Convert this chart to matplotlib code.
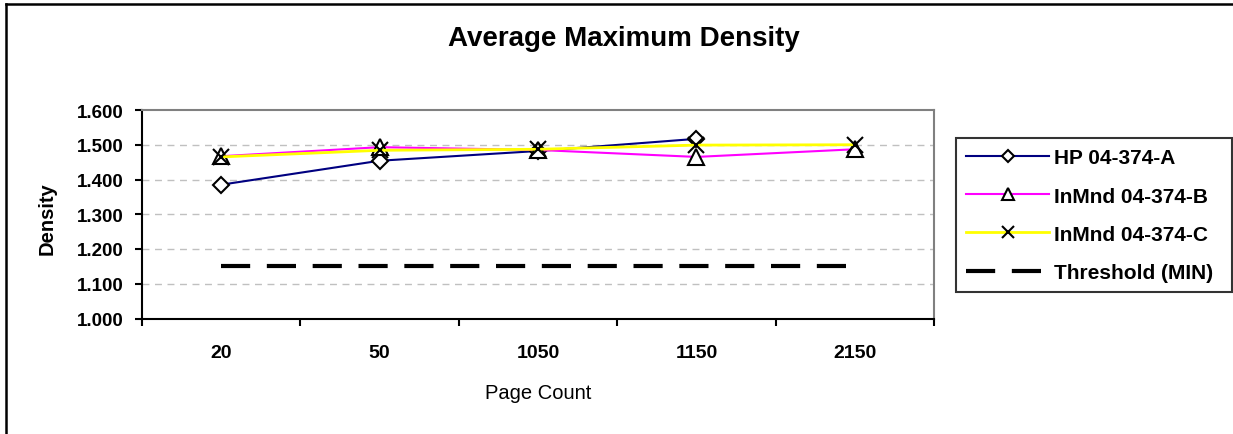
import matplotlib
matplotlib.use("Agg")
import matplotlib.pyplot as plt
from matplotlib.lines import Line2D
import numpy as np

plt.rcParams['font.family'] = ['Liberation Sans', 'DejaVu Sans']

categories = ["20", "50", "1050", "1150", "2150"]
hp_a = [1.385, 1.454, 1.482, 1.517, np.nan]
inmnd_b = [1.467, 1.493, 1.485, 1.465, 1.487]
inmnd_c = [1.465, 1.484, 1.487, 1.499, 1.500]
threshold = [1.15, 1.15, 1.15, 1.15, 1.15]
yticks = [1.0, 1.1, 1.2, 1.3, 1.4, 1.5, 1.6]

W, H = 1233, 435
fig = plt.figure(figsize=(W / 100, H / 100), dpi=100)
ax = fig.add_axes([142 / W, 1 - 319.5 / H, (934 - 142) / W, (319.5 - 111) / H])

x = np.arange(len(categories))
ax.plot(x, hp_a, color='#000080', lw=1.5, marker='D', ms=8, mfc='white',
        mec='black', mew=1.5, label='HP 04-374-A', zorder=3)
ax.plot(x, inmnd_b, color='#FF00FF', lw=1.5, marker='^', ms=11, mfc='white',
        mec='black', mew=1.5, label='InMnd 04-374-B', zorder=4)
ax.plot(x, inmnd_c, color='#FFFF00', lw=2, marker='x', ms=12,
        mec='black', mew=1.5, label='InMnd 04-374-C', zorder=5)
ax.plot(x, threshold, color='black', lw=3, dashes=(7, 4),
        label='Threshold (MIN)', zorder=2)

ax.set_xlim(-0.5, len(categories) - 0.5)
ax.set_ylim(1.0, 1.6)
ax.set_yticks(yticks)
ax.set_yticklabels([f"{v:.3f}" for v in yticks], fontweight='bold', fontsize=13.5)
ax.set_xticks(x)
ax.set_xticklabels(categories, fontweight='bold', fontsize=14)
ax.set_xticks(np.arange(-0.5, len(categories)), minor=True)
ax.tick_params(axis='x', which='major', length=0, pad=18.5)
ax.tick_params(axis='x', which='minor', length=5, width=1.5, direction='out')
ax.tick_params(axis='y', length=5, width=1.5, direction='out', pad=8)

for v in yticks[1:-1]:
    ax.axhline(v, color='#c0c0c0', lw=1, dashes=(5, 4), zorder=1)

ax.spines['left'].set_color('black')
ax.spines['bottom'].set_color('black')
ax.spines['left'].set_linewidth(1.5)
ax.spines['bottom'].set_linewidth(1.5)
ax.spines['top'].set_color('#808080')
ax.spines['right'].set_color('#808080')
ax.spines['top'].set_linewidth(1.5)
ax.spines['right'].set_linewidth(1.5)

fig.text(624 / W, 1 - 46.5 / H, "Average Maximum Density", ha='center', va='baseline',
         fontsize=20, fontweight='bold')
fig.text(538 / W, 1 - 399 / H, "Page Count", ha='center', va='baseline', fontsize=14.5)
fig.text(47 / W, 1 - 219 / H, "Density", ha='center', va='center', rotation=90,
         fontsize=14.5, fontweight='bold')

leg = fig.legend(loc='upper left', bbox_to_anchor=(956 / W, 1 - 139 / H, (1232 - 956) / W, 0.0),
                 mode='expand', frameon=True, fancybox=False, prop={'weight': 'bold', 'size': 15},
                 labelspacing=0.92, handlelength=3.95, handletextpad=0.25, borderpad=0.5,
                 markerscale=0.75, borderaxespad=0)
leg.get_frame().set_edgecolor('black')
leg.get_frame().set_linewidth(1.5)

fig.add_artist(Line2D([6 / W, 6 / W], [0, 1 - 5 / H], color='black', lw=1.8,
                      transform=fig.transFigure))
fig.add_artist(Line2D([6 / W, 1], [1 - 5 / H, 1 - 5 / H], color='black', lw=1.8,
                      transform=fig.transFigure))

fig.savefig("out.png", dpi=100)
